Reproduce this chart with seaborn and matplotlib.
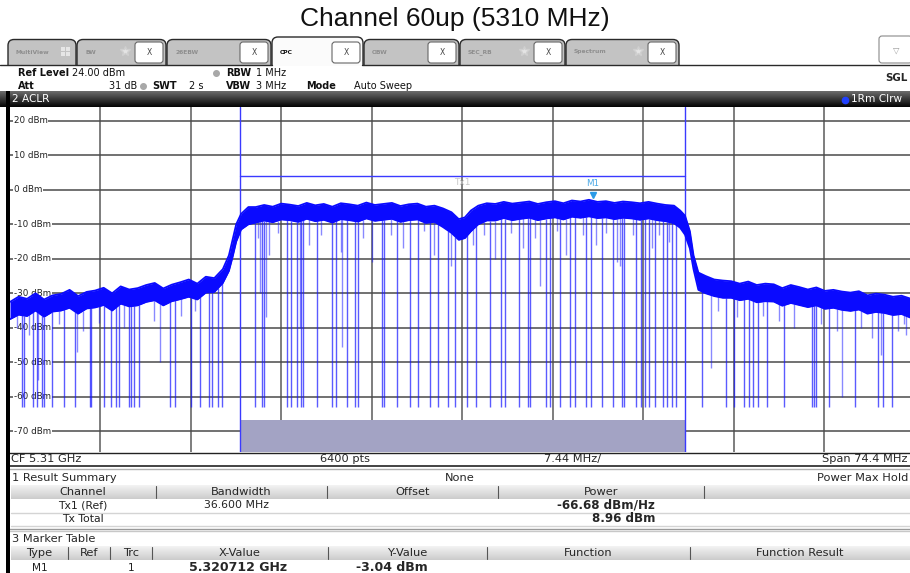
import numpy as np
import pandas as pd
import matplotlib
matplotlib.use("Agg")
import matplotlib.pyplot as plt
import seaborn as sns
from matplotlib.patches import Rectangle, FancyBboxPatch

# ---- trace (offset from CF, MHz / dBm) ----
# upper and lower edge of the dense max-hold band
freq_off = [-37.2, -36.5, -35.8, -35.1, -34.4, -33.7, -33.0, -32.3, -31.6, -30.9,
            -30.2, -29.5, -28.8, -28.1, -27.4, -26.7, -26.0, -25.3, -24.6, -23.9,
            -23.2, -22.5, -21.8, -21.1, -20.4, -19.7,
            -19.2, -18.9, -18.6, -18.2, -17.6,
            -17.0, -16.3, -15.6, -14.9, -14.2, -13.5, -12.8, -12.1, -11.4, -10.7,
            -10.0, -9.3, -8.6, -7.9, -7.2, -6.5, -5.8, -5.1, -4.4, -3.7,
            -3.0, -2.3, -1.6, -0.9, -0.3, 0.2, 0.7, 1.3, 2.0, 2.7,
            3.4, 4.1, 4.8, 5.5, 6.2, 6.9, 7.6, 8.3, 9.0, 9.7,
            10.4, 11.1, 11.8, 12.5, 13.2, 13.9, 14.6, 15.3, 16.0, 16.7,
            17.4, 17.9,
            18.3, 18.7, 19.0, 19.4,
            20.0, 20.7, 21.4, 22.1, 22.8, 23.5, 24.2, 24.9, 25.6, 26.3,
            27.0, 27.7, 28.4, 29.1, 29.8, 30.5, 31.2, 31.9, 32.6, 33.3,
            34.0, 34.7, 35.4, 36.1, 36.8]
trace_top = [-32.5, -31.0, -31.6, -30.0, -31.8, -30.6, -30.2, -29.0, -30.8, -29.6,
             -29.2, -28.4, -30.0, -28.0, -28.9, -28.5, -27.6, -27.0, -28.6, -27.5,
             -26.8, -26.0, -27.2, -25.2, -25.6, -23.0,
             -19.0, -14.5, -10.0, -7.0, -5.0,
             -5.0, -4.4, -4.9, -4.0, -4.3, -4.7, -3.8, -4.5, -4.1, -4.9,
             -3.9, -4.2, -4.6, -3.7, -4.4, -4.1, -3.8, -4.7, -4.2, -4.0,
             -4.9, -4.6, -5.4, -6.5, -8.5, -8.0, -6.0, -4.6, -3.9, -4.1,
             -3.5, -4.0, -3.7, -3.4, -4.1, -3.6, -3.3, -3.9, -3.1, -3.4,
             -2.9, -3.5, -3.3, -3.8, -3.4, -3.6, -3.9, -3.5, -4.0, -4.4,
             -4.6, -6.0,
             -7.5, -12.0, -19.0, -24.0,
             -25.0, -26.0, -26.3, -26.5, -27.2, -26.6, -27.6, -27.2, -27.4, -28.5,
             -27.6, -28.2, -28.9, -28.3, -29.3, -29.0, -29.5, -29.8, -29.4, -30.6,
             -30.1, -30.4, -31.0, -30.7, -31.5]
trace_bottom = [-37.5, -36.2, -36.6, -35.0, -36.8, -35.3, -35.0, -34.2, -35.9, -34.4,
                -34.1, -33.4, -35.0, -33.0, -33.8, -33.5, -32.5, -32.0, -33.5, -32.3,
                -31.7, -31.0, -31.8, -29.8, -29.6, -27.0,
                -23.5, -19.5, -15.0, -11.5, -10.0,
                -9.5, -8.9, -9.4, -8.6, -8.8, -9.3, -8.4, -9.1, -8.7, -9.5,
                -8.5, -8.8, -9.2, -8.3, -9.0, -8.7, -8.4, -9.3, -8.8, -8.6,
                -9.6, -9.3, -10.8, -12.5, -14.5, -14.0, -12.0, -10.0, -8.9, -8.9,
                -8.2, -8.8, -8.4, -8.1, -8.8, -8.3, -8.0, -8.6, -7.8, -8.1,
                -7.7, -8.2, -8.0, -8.5, -8.1, -8.3, -8.7, -8.3, -8.8, -9.1,
                -9.7, -11.0,
                -13.0, -17.0, -23.0, -29.0,
                -30.0, -30.8, -31.3, -31.3, -32.0, -31.6, -32.6, -32.3, -32.4, -33.6,
                -32.8, -33.4, -34.0, -33.5, -34.5, -34.2, -34.8, -35.1, -34.7, -35.9,
                -35.4, -35.7, -36.3, -36.0, -37.0]

# deep drop-outs of the max-hold trace (all reach about -63 dBm)
deep_spikes = [-36.19, -36.02, -35.28, -34.95, -34.54, -34.38, -33.72, -32.73, -31.83,
               -30.59, -30.51, -29.44, -28.87, -28.46, -28.21, -27.39, -27.22, -26.97,
               -26.56, -24.01, -23.60, -22.29, -21.55, -20.81, -20.56, -20.07, -19.74,
               -17.02, -16.45, -16.28, -14.39, -14.06, -13.57, -13.24, -13.08, -11.92,
               -10.69, -10.36, -9.46, -8.80, -8.55, -6.58, -6.41, -5.35, -4.28, -3.62,
               -2.63, -1.97, -1.15, -0.58, 0.41, 1.15, 2.30, 3.13, 3.54, 4.61, 5.43,
               5.59, 6.83, 7.24, 8.06, 8.88, 9.29, 10.12, 10.53, 11.51, 12.42, 13.08,
               13.32, 14.31, 14.72, 14.97, 15.38, 15.87, 16.45, 16.86, 17.19, 17.52,
               19.66, 21.63, 22.29, 23.19, 23.60, 23.93, 24.34, 25.08, 26.48, 28.78,
               28.87, 29.11, 30.18, 32.24, 34.13, 34.54, 35.36]
deep_floor = -63.0
# shorter dips hanging below the band
short_spikes = [-31.66, -34.87, -16.12, -9.87, 20.40, 31.17, 36.43, 34.38, -13.32,
                -16.61, 12.99, 6.41, -24.84,
                -16.8, -15.9, -15.2, -12.6, -11.6, -10.0, -8.2, -7.4, -5.9, -4.9,
                -3.2, -2.3, -0.9, 0.9, 1.8, 2.7, 4.0, 5.0, 6.0, 7.8, 8.5, 9.9,
                11.0, 11.8, 12.7, 14.0, 15.6, 16.2, 17.0,
                -36.6, -35.6, -33.2, -31.2, -29.9, -27.8, -25.4, -23.1, -22.0,
                21.0, 22.6, 24.7, 26.0, 27.3, 29.5, 30.8, 32.8, 33.7, 35.8, 36.3]
short_floor = [-47.0, -55.0, -37.0, -45.5, -51.6, -60.0, -42.0, -48.0, -40.0,
               -30.0, -22.0, -28.0, -50.0,
               -14.0, -19.0, -12.5, -16.0, -13.0, -18.0, -14.0, -21.0, -13.0, -17.0,
               -12.0, -19.0, -22.0, -16.0, -13.0, -20.0, -12.5, -17.0, -14.0, -12.0, -19.0, -13.0,
               -16.0, -12.5, -21.0, -13.0, -17.0, -13.0, -15.0,
               -40.0, -42.0, -39.0, -41.0, -38.5, -40.0, -38.0, -36.5, -35.0,
               -35.0, -37.0, -36.5, -38.0, -40.0, -39.0, -41.0, -40.0, -43.0, -41.0, -39.0]

ref_levels = [20, 10, 0, -10, -20, -30, -40, -50, -60, -70]
chan_bw = 36.6
chan_bar = 4.0
limit_level = -66.7
marker_off = 10.712
marker_level = -3.04
div_mhz = 7.44

tab_names = ["MultiView", "BW", "26EBW", "CPC", "OBW", "SEC_RB", "Spectrum"]
tab_edges = [8, 77, 167, 272, 364, 460, 566, 680]

sum_cols = ["Channel", "Bandwidth", "Offset", "Power", ""]
sum_edges = [10, 156, 327, 498, 704, 910]
mk_cols = ["Type", "Ref", "Trc", "X-Value", "Y-Value", "Function", "Function Result"]
mk_edges = [10, 68, 110, 152, 328, 487, 690, 910]

sns.set_style("white")
plt.rcParams['font.family'] = ['DejaVu Sans']

fig = plt.figure(figsize=(9.1, 5.73), dpi=100)

# background / screen furniture in pixel coordinates
bg = fig.add_axes([0, 0, 1, 1])
bg.set_xlim(0, 910)
bg.set_ylim(573, 0)
bg.axis("off")


def grad(x0, x1, y0, y1, c0, c1, z=1):
    img = np.linspace(c0, c1, 24).reshape(-1, 1)
    bg.imshow(img, cmap="gray", vmin=0, vmax=1, extent=(x0, x1, y1, y0),
              aspect="auto", interpolation="bilinear", zorder=z)


bg.text(455, 19, "Channel 60up (5310 MHz)", ha="center", va="center",
        fontsize=19, family="Liberation Sans", color="#111111")

# tabs
for i, name in enumerate(tab_names):
    x0, x1 = tab_edges[i], tab_edges[i + 1]
    active = name == "CPC"
    top = 37 if active else 39.5
    bg.add_patch(FancyBboxPatch((x0, top), x1 - x0 - 1, 40, boxstyle="round,pad=0,rounding_size=6",
                                fc="#fbfbfb" if active else "#c3c3c3", ec="#2a2a2a", lw=1, zorder=2))
    bg.text(x0 + 8, 52, name, fontsize=4.3, fontweight="bold", va="center",
            color="#111111" if active else "#8e8e8e", zorder=4)
    if name != "MultiView":
        bx = x1 - 32
        bg.add_patch(FancyBboxPatch((bx, 42), 28, 21, boxstyle="round,pad=0,rounding_size=3",
                                    fc="white", ec="#666666", lw=0.8, zorder=3))
        bg.text(bx + 14, 52.5, "X", fontsize=5.5, ha="center", va="center", color="#444444", zorder=4)
    if name in ("BW", "SEC_RB", "Spectrum"):
        bg.plot(x1 - 42, 51, marker="*", ms=7, color="#e4e4e4", mec="#d0d0d0", zorder=4)
    if name == "MultiView":
        for dx in (0, 5):
            for dy in (0, 5):
                bg.add_patch(Rectangle((61 + dx, 47 + dy), 4, 4, fc="#e6e6e6", ec="none", zorder=4))
bg.add_patch(Rectangle((0, 65.5), 910, 26, fc="white", ec="none", zorder=3))
bg.plot([0, 272], [65, 65], color="#2a2a2a", lw=1, zorder=4)
bg.plot([362, 910], [65, 65], color="#2a2a2a", lw=1, zorder=4)
bg.add_patch(FancyBboxPatch((879, 36), 33, 27, boxstyle="round,pad=0,rounding_size=3",
                            fc="white", ec="#8a8a8a", lw=0.8, zorder=4))
bg.text(896, 50, "\u25bd", fontsize=6, ha="center", va="center", color="#9a9a9a", zorder=5)

# setting lines
info = [(18, 73, "Ref Level", "bold"), (72, 73, "24.00 dBm", "normal"),
        (226, 73, "RBW", "bold"), (256, 73, "1 MHz", "normal"),
        (18, 86, "Att", "bold"), (109, 86, "31 dB", "normal"),
        (152, 86, "SWT", "bold"), (189, 86, "2 s", "normal"),
        (226, 86, "VBW", "bold"), (256, 86, "3 MHz", "normal"),
        (306, 86, "Mode", "bold"), (354, 86, "Auto Sweep", "normal")]
for x, y, s, w in info:
    bg.text(x, y, s, fontsize=7.0, fontweight=w, va="center", color="#111111", zorder=5)
for x, y in [(216, 73), (143, 86)]:
    bg.plot(x, y, "o", ms=4, color="#a8a8a8", zorder=5)
bg.text(908, 78, "SGL", fontsize=7.4, fontweight="bold", ha="right", va="center", zorder=5)

# window title bar
grad(0, 910, 91, 107, 0.42, 0.02, z=5)
bg.text(12, 99.5, "2 ACLR", color="white", fontsize=7.6, va="center", zorder=6)
bg.plot(845, 99.5, "o", ms=4.5, color="#2040ff", zorder=6)
bg.text(851, 99.5, "1Rm Clrw", color="white", fontsize=7.6, va="center", zorder=6)
bg.add_patch(Rectangle((6, 91), 3.5, 482, fc="black", ec="none", zorder=7))

# bottom status line
bg.plot([9, 910], [452.5, 452.5], color="#222222", lw=1, zorder=5)
for x, s, ha in [(11, "CF 5.31 GHz", "left"), (345, "6400 pts", "center"),
                 (573, "7.44 MHz/", "center"), (908, "Span 74.4 MHz", "right")]:
    bg.text(x, 459, s, fontsize=8.2, ha=ha, va="center", zorder=5)
bg.plot([9, 910], [465.5, 465.5], color="#222222", lw=1.2, zorder=5)
bg.plot([9, 910], [468.5, 468.5], color="#b0b0b0", lw=1, zorder=5)

# result summary
bg.text(12, 478, "1 Result Summary", fontsize=8.2, va="center", zorder=5)
bg.text(460, 478, "None", fontsize=8.2, ha="center", va="center", zorder=5)
bg.text(908, 478, "Power Max Hold", fontsize=8.2, ha="right", va="center", zorder=5)
grad(11, 910, 485, 499, 0.95, 0.80, z=4)
for i, c in enumerate(sum_cols):
    bg.text((sum_edges[i] + sum_edges[i + 1]) / 2, 492, c, fontsize=8.2, ha="center", va="center", zorder=5)
    if 0 < i:
        bg.plot([sum_edges[i], sum_edges[i]], [486, 498], color="#555555", lw=0.8, zorder=5)
bg.text(83, 505.5, "Tx1 (Ref)", fontsize=7.8, ha="center", va="center", color="#222222", zorder=5)
bg.text(237, 505.5, "36.600 MHz", fontsize=7.8, ha="center", va="center", color="#222222", zorder=5)
bg.text(655, 505, "-66.68 dBm/Hz", fontsize=8.6, fontweight="bold", ha="right", va="center", zorder=5)
bg.text(83, 519, "Tx Total", fontsize=7.8, ha="center", va="center", color="#222222", zorder=5)
bg.text(655, 519, "8.96 dBm", fontsize=8.6, fontweight="bold", ha="right", va="center", zorder=5)
for y in (512.5, 526):
    bg.plot([11, 910], [y, y], color="#d4d4d4", lw=1, zorder=4)
bg.plot([9, 910], [528.5, 528.5], color="#9a9a9a", lw=1, zorder=5)
bg.plot([9, 910], [531, 531], color="#c8c8c8", lw=1, zorder=5)

# marker table
bg.text(12, 539, "3 Marker Table", fontsize=8.2, va="center", zorder=5)
grad(11, 910, 546, 560, 0.95, 0.80, z=4)
for i, c in enumerate(mk_cols):
    bg.text((mk_edges[i] + mk_edges[i + 1]) / 2, 553, c, fontsize=8.2, ha="center", va="center", zorder=5)
    if 0 < i:
        bg.plot([mk_edges[i], mk_edges[i]], [547, 559], color="#555555", lw=0.8, zorder=5)
bg.text(40, 568, "M1", fontsize=7.6, ha="center", va="center", color="#222222", zorder=5)
bg.text(131, 568, "1", fontsize=7.6, ha="center", va="center", color="#222222", zorder=5)
bg.text(238, 567.5, "5.320712 GHz", fontsize=9.0, fontweight="bold", ha="center", va="center", zorder=5)
bg.text(392, 567.5, "-3.04 dBm", fontsize=9.0, fontweight="bold", ha="center", va="center", zorder=5)

bg.set_xlim(0, 910)
bg.set_ylim(573, 0)

# ---- the spectrum diagram ----
ax = fig.add_axes([10 / 910, 1 - 452 / 573, 900 / 910, 345 / 573])
ax.set_xlim(-37.2, 36.8)
ax.set_ylim(-76, 24)
for s in ax.spines.values():
    s.set_visible(False)
ax.set_xticks([])
ax.set_yticks([])

for k in range(-4, 5):
    ax.axvline(k * div_mhz, color="#5a5a5a", lw=1.1, zorder=1)
for lv in ref_levels:
    ax.axhline(lv, color="#4a4a4a", lw=1.1, zorder=1)
    ax.text(-36.9, lv, f"{lv} dBm", fontsize=6.3, va="center", color="#222222", zorder=2,
            bbox=dict(fc="white", ec="none", pad=0.6))

half = chan_bw / 2
ax.fill_between([-half, half], -76, limit_level, color="#a3a3c4", lw=0, zorder=2)
ax.axvline(-half, color="#3a3aff", lw=1, zorder=2)
ax.axvline(half, color="#3a3aff", lw=1, zorder=2)
ax.plot([-half, half], [chan_bar, chan_bar], color="#3a3aff", lw=1, zorder=2)
ax.text(0, 2.2, "Tx1", fontsize=6.5, ha="center", va="center", color="#c8c8c8", zorder=2)

df = pd.DataFrame({"freq": freq_off, "top": trace_top, "bottom": trace_bottom})
spike_top = np.interp(deep_spikes, df["freq"], df["bottom"])
ax.vlines(deep_spikes, deep_floor, spike_top, color="#1515ff", lw=1, alpha=0.7, zorder=3)
short_top = np.interp(short_spikes, df["freq"], df["bottom"])
ax.vlines(short_spikes, short_floor, short_top, color="#1515ff", lw=1, alpha=0.5, zorder=3)

ax.fill_between(df["freq"], df["bottom"], df["top"], color="#0a0aff", lw=0, zorder=4)
sns.lineplot(data=df, x="freq", y="top", ax=ax, color="#0a0aff", lw=1.3, zorder=4)
sns.lineplot(data=df, x="freq", y="bottom", ax=ax, color="#0a0aff", lw=1.3, zorder=4)
ax.set_xlabel("")
ax.set_ylabel("")

ax.plot(marker_off, marker_level + 1.4, marker="v", ms=5, color="#2a9ae6", zorder=5)
ax.text(marker_off, marker_level + 5.0, "M1", fontsize=6.3, ha="center", va="center",
        color="#4aa8e6", zorder=5)

fig.savefig("out.png", dpi=100)
